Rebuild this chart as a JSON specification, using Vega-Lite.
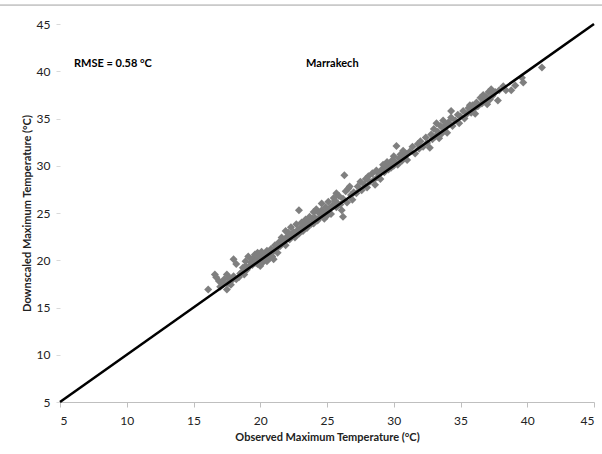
{
  "$schema": "https://vega.github.io/schema/vega-lite/v6.json",
  "width": 534,
  "height": 378,
  "autosize": {"type": "none"},
  "padding": {"left": 60, "top": 24, "right": 8, "bottom": 52},
  "background": "white",
  "config": {
    "view": {"stroke": null},
    "font": "Lato",
    "axis": {"labelFont": "Lato", "titleFont": "Lato", "grid": false}
  },
  "datasets": {
    "obs": [
      {"observed":16.1,"downscaled":16.9},{"observed":16.6,"downscaled":18.5},{"observed":16.7,"downscaled":18.2},{"observed":16.9,"downscaled":17.8},{"observed":17.0,"downscaled":17.2},
      {"observed":17.2,"downscaled":17.6},{"observed":17.3,"downscaled":18.0},{"observed":17.5,"downscaled":18.5},{"observed":17.5,"downscaled":16.9},{"observed":17.6,"downscaled":17.6},{"observed":17.7,"downscaled":18.1},{"observed":17.8,"downscaled":17.4},{"observed":17.9,"downscaled":17.9},{"observed":18.0,"downscaled":20.1},{"observed":18.0,"downscaled":18.3},
      {"observed":18.2,"downscaled":19.6},{"observed":18.2,"downscaled":18.0},{"observed":18.4,"downscaled":18.2},{"observed":18.5,"downscaled":18.6},{"observed":18.6,"downscaled":18.7},{"observed":18.7,"downscaled":19.2},{"observed":18.8,"downscaled":18.5},{"observed":18.9,"downscaled":19.9},{"observed":19.0,"downscaled":19.0},{"observed":18.9,"downscaled":19.4},
      {"observed":19.1,"downscaled":20.4},{"observed":19.2,"downscaled":19.4},{"observed":19.3,"downscaled":19.8},{"observed":19.4,"downscaled":20.1},{"observed":19.4,"downscaled":19.5},{"observed":19.5,"downscaled":20.3},{"observed":19.6,"downscaled":19.7},{"observed":19.6,"downscaled":20.6},{"observed":19.7,"downscaled":20.0},{"observed":19.8,"downscaled":19.6},{"observed":19.8,"downscaled":20.8},{"observed":19.9,"downscaled":20.2},{"observed":19.9,"downscaled":19.9},{"observed":20.0,"downscaled":20.5},{"observed":20.0,"downscaled":19.4},
      {"observed":20.1,"downscaled":20.9},{"observed":20.2,"downscaled":20.1},{"observed":20.2,"downscaled":19.8},{"observed":20.3,"downscaled":20.6},{"observed":20.4,"downscaled":20.3},{"observed":20.5,"downscaled":21.0},{"observed":20.5,"downscaled":19.9},{"observed":20.6,"downscaled":20.5},{"observed":20.7,"downscaled":20.2},{"observed":20.8,"downscaled":21.2},{"observed":20.8,"downscaled":20.7},{"observed":20.9,"downscaled":20.4},{"observed":21.0,"downscaled":21.0},{"observed":21.0,"downscaled":20.1},
      {"observed":21.1,"downscaled":21.6},{"observed":21.2,"downscaled":21.2},{"observed":21.3,"downscaled":20.8},{"observed":21.4,"downscaled":21.9},{"observed":21.5,"downscaled":21.5},{"observed":21.6,"downscaled":22.4},{"observed":21.7,"downscaled":21.8},{"observed":21.8,"downscaled":22.1},{"observed":21.9,"downscaled":23.1},{"observed":22.0,"downscaled":22.5},{"observed":21.9,"downscaled":21.6},
      {"observed":22.1,"downscaled":22.9},{"observed":22.2,"downscaled":22.2},{"observed":22.3,"downscaled":23.5},{"observed":22.4,"downscaled":22.7},{"observed":22.5,"downscaled":23.0},{"observed":22.6,"downscaled":22.4},{"observed":22.7,"downscaled":23.8},{"observed":22.8,"downscaled":23.2},{"observed":22.9,"downscaled":25.3},{"observed":22.9,"downscaled":22.8},{"observed":23.0,"downscaled":23.4},
      {"observed":23.1,"downscaled":24.0},{"observed":23.2,"downscaled":23.1},{"observed":23.3,"downscaled":23.7},{"observed":23.4,"downscaled":24.3},{"observed":23.5,"downscaled":23.4},{"observed":23.6,"downscaled":24.0},{"observed":23.7,"downscaled":24.6},{"observed":23.8,"downscaled":23.8},{"observed":23.9,"downscaled":24.4},{"observed":24.0,"downscaled":25.1},{"observed":24.0,"downscaled":23.9},
      {"observed":24.1,"downscaled":24.5},{"observed":24.2,"downscaled":25.4},{"observed":24.3,"downscaled":24.2},{"observed":24.4,"downscaled":25.0},{"observed":24.5,"downscaled":24.6},{"observed":24.6,"downscaled":26.0},{"observed":24.6,"downscaled":25.3},{"observed":24.7,"downscaled":25.0},{"observed":24.8,"downscaled":24.4},{"observed":24.9,"downscaled":25.6},{"observed":25.0,"downscaled":25.1},{"observed":25.0,"downscaled":24.7},
      {"observed":25.1,"downscaled":26.2},{"observed":25.2,"downscaled":25.5},{"observed":25.3,"downscaled":24.9},{"observed":25.4,"downscaled":25.8},{"observed":25.5,"downscaled":26.6},{"observed":25.6,"downscaled":26.3},{"observed":25.7,"downscaled":27.1},{"observed":25.7,"downscaled":25.6},{"observed":25.8,"downscaled":26.0},{"observed":25.9,"downscaled":26.8},{"observed":26.0,"downscaled":25.9},{"observed":26.1,"downscaled":25.3},{"observed":26.2,"downscaled":24.6},
      {"observed":26.2,"downscaled":26.5},{"observed":26.3,"downscaled":29.0},{"observed":26.4,"downscaled":27.3},{"observed":26.5,"downscaled":26.1},{"observed":26.6,"downscaled":27.6},{"observed":26.7,"downscaled":27.8},{"observed":26.8,"downscaled":26.9},{"observed":26.9,"downscaled":26.4},{"observed":27.0,"downscaled":27.2},{"observed":27.2,"downscaled":27.1},
      {"observed":27.3,"downscaled":27.8},{"observed":27.5,"downscaled":28.3},{"observed":27.6,"downscaled":27.4},{"observed":27.8,"downscaled":28.0},{"observed":27.9,"downscaled":28.6},{"observed":28.0,"downscaled":27.7},
      {"observed":28.1,"downscaled":28.9},{"observed":28.2,"downscaled":28.3},{"observed":28.4,"downscaled":29.2},{"observed":28.5,"downscaled":28.5},{"observed":28.6,"downscaled":28.0},{"observed":28.7,"downscaled":29.5},{"observed":28.8,"downscaled":28.8},{"observed":28.9,"downscaled":29.1},{"observed":29.0,"downscaled":28.6},
      {"observed":29.1,"downscaled":29.6},{"observed":29.2,"downscaled":30.1},{"observed":29.3,"downscaled":29.3},{"observed":29.4,"downscaled":29.9},{"observed":29.5,"downscaled":30.4},{"observed":29.6,"downscaled":29.6},{"observed":29.7,"downscaled":30.2},{"observed":29.8,"downscaled":29.8},{"observed":29.9,"downscaled":30.6},{"observed":30.0,"downscaled":30.0},{"observed":30.0,"downscaled":31.0},
      {"observed":30.1,"downscaled":30.4},{"observed":30.2,"downscaled":32.1},{"observed":30.3,"downscaled":30.1},{"observed":30.4,"downscaled":30.8},{"observed":30.5,"downscaled":31.2},{"observed":30.6,"downscaled":30.5},{"observed":30.7,"downscaled":31.6},{"observed":30.8,"downscaled":30.9},{"observed":30.9,"downscaled":31.3},{"observed":31.0,"downscaled":30.6},
      {"observed":31.2,"downscaled":31.5},{"observed":31.4,"downscaled":32.0},{"observed":31.6,"downscaled":31.3},{"observed":31.8,"downscaled":32.3},{"observed":31.9,"downscaled":31.8},
      {"observed":32.0,"downscaled":32.6},{"observed":32.2,"downscaled":32.0},{"observed":32.4,"downscaled":33.0},{"observed":32.5,"downscaled":32.4},{"observed":32.7,"downscaled":31.9},{"observed":32.8,"downscaled":33.3},{"observed":32.9,"downscaled":32.8},
      {"observed":33.0,"downscaled":33.9},{"observed":33.1,"downscaled":33.1},{"observed":33.2,"downscaled":34.5},{"observed":33.3,"downscaled":33.6},{"observed":33.4,"downscaled":32.9},{"observed":33.5,"downscaled":34.2},{"observed":33.6,"downscaled":33.4},{"observed":33.7,"downscaled":34.8},{"observed":33.8,"downscaled":33.9},{"observed":33.9,"downscaled":34.3},{"observed":34.0,"downscaled":33.5},
      {"observed":34.1,"downscaled":34.6},{"observed":34.3,"downscaled":35.8},{"observed":34.3,"downscaled":35.1},{"observed":34.4,"downscaled":34.2},{"observed":34.6,"downscaled":34.8},{"observed":34.8,"downscaled":35.4},{"observed":34.9,"downscaled":34.5},
      {"observed":35.0,"downscaled":35.2},{"observed":35.2,"downscaled":35.8},{"observed":35.3,"downscaled":35.0},{"observed":35.5,"downscaled":35.5},{"observed":35.6,"downscaled":36.1},{"observed":35.7,"downscaled":36.4},{"observed":35.8,"downscaled":35.6},{"observed":35.9,"downscaled":36.4},
      {"observed":36.0,"downscaled":36.0},{"observed":36.1,"downscaled":35.5},{"observed":36.2,"downscaled":36.7},{"observed":36.3,"downscaled":36.3},{"observed":36.5,"downscaled":37.2},{"observed":36.6,"downscaled":36.6},{"observed":36.7,"downscaled":37.5},{"observed":36.8,"downscaled":36.9},{"observed":36.9,"downscaled":37.3},{"observed":37.0,"downscaled":36.5},
      {"observed":37.1,"downscaled":37.8},{"observed":37.2,"downscaled":37.0},{"observed":37.3,"downscaled":38.1},{"observed":37.4,"downscaled":37.4},{"observed":37.5,"downscaled":37.7},{"observed":37.6,"downscaled":37.8},{"observed":37.8,"downscaled":36.9},{"observed":37.9,"downscaled":38.0},
      {"observed":38.2,"downscaled":38.4},{"observed":38.4,"downscaled":38.0},{"observed":38.8,"downscaled":38.0},{"observed":39.1,"downscaled":38.5},{"observed":39.6,"downscaled":39.3},{"observed":39.7,"downscaled":38.8},{"observed":41.1,"downscaled":40.4}
    ],
    "oneToOne": [
      {"observed": 5, "downscaled": 5},
      {"observed": 45, "downscaled": 45}
    ],
    "notes": [
      {"label": "RMSE = 0.58 °C", "observed": 6.05, "downscaled": 40.8},
      {"label": "Marrakech", "observed": 25.4, "downscaled": 40.8}
    ]
  },
  "layer": [
    {
      "data": {"name": "oneToOne"},
      "mark": {"type": "rule", "color": "#bfbfbf", "strokeWidth": 1, "clip": false},
      "encoding": {
        "x": {"datum": 0.5, "type": "quantitative"},
        "x2": {"datum": 45.6},
        "y": {"datum": 47, "type": "quantitative"}
      }
    },
    {
      "data": {"name": "obs"},
      "mark": {"type": "point", "shape": "diamond", "filled": true, "size": 64, "color": "#7f7f7f", "opacity": 1},
      "encoding": {
        "x": {
          "field": "observed", "type": "quantitative",
          "scale": {"domain": [5, 45], "nice": false, "zero": false},
          "axis": {
            "title": "Observed Maximum Temperature (°C)",
            "values": [5, 10, 15, 20, 25, 30, 35, 40, 45],
            "domainColor": "#bfbfbf", "domainWidth": 1,
            "tickColor": "#bfbfbf", "tickSize": 5,
            "labelColor": "#222222", "labelFontSize": 12, "labelPadding": 8,
            "titleColor": "#222222", "titleFontSize": 11, "titleFontWeight": "bold", "titlePadding": 5
          }
        },
        "y": {
          "field": "downscaled", "type": "quantitative",
          "scale": {"domain": [5, 45], "nice": false, "zero": false},
          "axis": {
            "title": "Downscaled Maximum Temperature (°C)",
            "values": [5, 10, 15, 20, 25, 30, 35, 40, 45],
            "domain": false,
            "tickColor": "#d9d9d9", "tickSize": 4,
            "labelColor": "#222222", "labelFontSize": 12, "labelPadding": 6,
            "titleColor": "#222222", "titleFontSize": 11, "titleFontWeight": "bold", "titlePadding": 4
          }
        }
      }
    },
    {
      "data": {"name": "oneToOne"},
      "mark": {"type": "line", "color": "#000000", "strokeWidth": 2.5},
      "encoding": {
        "x": {"field": "observed", "type": "quantitative"},
        "y": {"field": "downscaled", "type": "quantitative"}
      }
    },
    {
      "data": {"name": "notes"},
      "transform": [{"filter": "datum.label !== 'Marrakech'"}],
      "mark": {"type": "text", "fontWeight": "bold", "fontSize": 11, "color": "#000000", "baseline": "middle", "align": "left"},
      "encoding": {
        "x": {"field": "observed", "type": "quantitative"},
        "y": {"field": "downscaled", "type": "quantitative"},
        "text": {"field": "label"}
      }
    },
    {
      "data": {"name": "notes"},
      "transform": [{"filter": "datum.label === 'Marrakech'"}],
      "mark": {"type": "text", "fontWeight": "bold", "fontSize": 11, "color": "#000000", "baseline": "middle", "align": "center"},
      "encoding": {
        "x": {"field": "observed", "type": "quantitative"},
        "y": {"field": "downscaled", "type": "quantitative"},
        "text": {"field": "label"}
      }
    }
  ]
}
